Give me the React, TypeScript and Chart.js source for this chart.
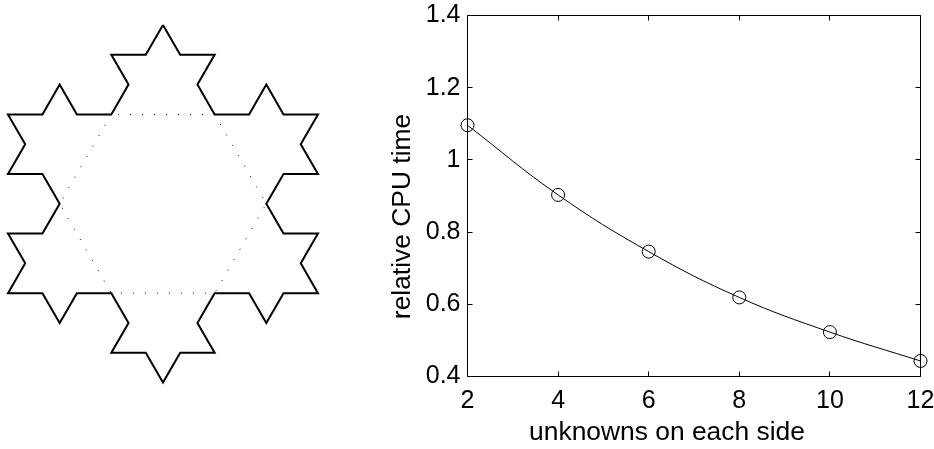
import React, { useEffect, useRef } from 'react';
import { Chart, registerables } from 'chart.js';

Chart.register(...registerables);

// ---------- Data: right-hand plot ----------
const unknownsPerSide = [2, 4, 6, 8, 10, 12];
const relativeCpuTime = [1.096, 0.903, 0.746, 0.619, 0.523, 0.443];
const xTickValues = [2, 4, 6, 8, 10, 12];
const xTickLabels = ['2', '4', '6', '8', '10', '12'];
const yTickValues = [0.4, 0.6, 0.8, 1.0, 1.2, 1.4];
const yTickLabels = ['0.4', '0.6', '0.8', '1', '1.2', '1.4'];
const xAxisTitle = 'unknowns on each side';
const yAxisTitle = 'relative CPU time';

// ---------- Data: left-hand figure (Koch snowflake) ----------
const snowflakeTriangle: number[][] = [
  [0, 5.19615],
  [-4.5, -2.59808],
  [4.5, -2.59808],
];
const kochLevel = 2;

const FONT = '"Liberation Sans", Arial, Helvetica, sans-serif';

function kochRefine(pts: number[][]): number[][] {
  const out: number[][] = [];
  const n = pts.length;
  const c = 0.5;
  const s = -Math.sqrt(3) / 2;
  for (let i = 0; i < n; i++) {
    const [ax, ay] = pts[i];
    const [bx, by] = pts[(i + 1) % n];
    const dx = (bx - ax) / 3;
    const dy = (by - ay) / 3;
    const p1 = [ax + dx, ay + dy];
    const p2 = [ax + 2 * dx, ay + 2 * dy];
    const tip = [p1[0] + dx * c - dy * s, p1[1] + dx * s + dy * c];
    out.push([ax, ay], p1, tip, p2);
  }
  return out;
}

function thirdsHexagon(pts: number[][]): number[][] {
  const out: number[][] = [];
  const n = pts.length;
  for (let i = 0; i < n; i++) {
    const [ax, ay] = pts[i];
    const [bx, by] = pts[(i + 1) % n];
    out.push([ax + (bx - ax) / 3, ay + (by - ay) / 3]);
    out.push([ax + (2 * (bx - ax)) / 3, ay + (2 * (by - ay)) / 3]);
  }
  return out;
}

function closeLoop(pts: number[][]) {
  const arr = pts.map(([x, y]) => ({ x, y }));
  arr.push({ x: pts[0][0], y: pts[0][1] });
  return arr;
}

const axisFramePlugin = {
  id: 'axisFrame',
  afterDraw(chart: any) {
    const { ctx, chartArea } = chart;
    const { left, right, top, bottom } = chartArea;
    const xs = chart.scales.x;
    const ys = chart.scales.y;
    const tl = 5;
    ctx.save();
    ctx.strokeStyle = '#000';
    ctx.lineWidth = 1;
    ctx.beginPath();
    ctx.rect(left, top, right - left, bottom - top);
    ctx.stroke();
    ctx.beginPath();
    xTickValues.forEach((v) => {
      const px = Math.round(xs.getPixelForValue(v) - 0.5) + 0.5;
      ctx.moveTo(px, bottom);
      ctx.lineTo(px, bottom - tl);
      ctx.moveTo(px, top);
      ctx.lineTo(px, top + tl);
    });
    yTickValues.forEach((v) => {
      const py = Math.round(ys.getPixelForValue(v) - 0.5) + 0.5;
      ctx.moveTo(left, py);
      ctx.lineTo(left + tl, py);
      ctx.moveTo(right, py);
      ctx.lineTo(right - tl, py);
    });
    ctx.stroke();
    ctx.restore();
  },
};

export default function App() {
  const leftRef = useRef<HTMLCanvasElement | null>(null);
  const rightRef = useRef<HTMLCanvasElement | null>(null);

  useEffect(() => {
    let flake = snowflakeTriangle;
    for (let i = 0; i < kochLevel; i++) flake = kochRefine(flake);
    const hex = thirdsHexagon(snowflakeTriangle);

    const left = new Chart(leftRef.current as HTMLCanvasElement, {
      type: 'scatter',
      data: {
        datasets: [
          {
            data: closeLoop(hex),
            showLine: true,
            borderColor: '#000',
            borderWidth: 1,
            borderDash: [1, 11],
            pointRadius: 0,
            fill: false,
            clip: false,
          } as any,
          {
            data: closeLoop(flake),
            showLine: true,
            borderColor: '#000',
            borderWidth: 2,
            borderJoinStyle: 'miter',
            pointRadius: 0,
            fill: false,
            clip: false,
          } as any,
        ],
      },
      options: {
        responsive: false,
        animation: false,
        events: [],
        layout: { padding: 0 },
        plugins: { legend: { display: false }, tooltip: { enabled: false } },
        scales: {
          x: { type: 'linear', min: -4.7323, max: 4.8493, display: false },
          y: { type: 'linear', min: -7.129, max: 5.923, display: false },
        },
      },
    });

    const right = new Chart(rightRef.current as HTMLCanvasElement, {
      type: 'line',
      data: {
        datasets: [
          {
            data: unknownsPerSide.map((x, i) => ({ x, y: relativeCpuTime[i] })),
            borderColor: '#000',
            borderWidth: 1,
            tension: 0.4,
            pointRadius: 6.5,
            pointBorderWidth: 1,
            pointBorderColor: '#000',
            pointBackgroundColor: 'rgba(0,0,0,0)',
            fill: false,
            clip: false,
          } as any,
        ],
      },
      options: {
        responsive: false,
        animation: false,
        events: [],
        layout: { padding: 0 },
        plugins: {
          legend: { display: false },
          tooltip: { enabled: false },
          title: {
            display: true,
            text: yAxisTitle,
            position: 'left',
            color: '#000',
            padding: 0,
            font: { family: FONT, size: 26.4, weight: 'normal' },
          },
          subtitle: {
            display: true,
            text: xAxisTitle,
            position: 'bottom',
            color: '#000',
            padding: 0,
            font: { family: FONT, size: 26.4, weight: 'normal' },
          },
        },
        scales: {
          x: {
            type: 'linear',
            position: 'bottom',
            min: 2,
            max: 12,
            afterBuildTicks: (s: any) => {
              s.ticks = xTickValues.map((v) => ({ value: v }));
            },
            ticks: {
              autoSkip: false,
              maxRotation: 0,
              padding: 10,
              color: '#000',
              font: { family: FONT, size: 25 },
              callback: (v: any) => {
                const i = xTickValues.findIndex((t) => Math.abs(t - v) < 1e-9);
                return i >= 0 ? xTickLabels[i] : '';
              },
            },
            grid: { display: false, drawTicks: false },
            border: { display: false },
            afterFit: (s: any) => {
              s.height = 40.82;
            },
          },
          y: {
            type: 'linear',
            position: 'left',
            min: 0.4,
            max: 1.4,
            afterBuildTicks: (s: any) => {
              s.ticks = yTickValues.map((v) => ({ value: v }));
            },
            ticks: {
              autoSkip: false,
              padding: 7,
              color: '#000',
              font: { family: FONT, size: 25 },
              callback: (v: any) => {
                const i = yTickValues.findIndex((t) => Math.abs(t - v) < 1e-9);
                return i >= 0 ? yTickLabels[i] : '';
              },
            },
            grid: { display: false, drawTicks: false },
            border: { display: false },
            afterFit: (s: any) => {
              s.width = 48.82;
            },
          },
          xTop: {
            type: 'linear',
            position: 'top',
            display: true,
            ticks: { display: false },
            grid: { display: false, drawTicks: false },
            border: { display: false },
            afterFit: (s: any) => {
              s.height = 31.5;
            },
          },
          yRight: {
            type: 'linear',
            position: 'right',
            display: true,
            ticks: { display: false },
            grid: { display: false, drawTicks: false },
            border: { display: false },
            afterFit: (s: any) => {
              s.width = 26.5;
            },
          },
        } as any,
      },
      plugins: [axisFramePlugin],
    });

    return () => {
      left.destroy();
      right.destroy();
    };
  }, []);

  return (
    <div
      style={{
        position: 'fixed',
        left: 0,
        top: 0,
        width: 934,
        height: 449,
        overflow: 'hidden',
        background: '#fff',
      }}
    >
      <canvas
        ref={leftRef}
        width={330}
        height={449}
        style={{ position: 'absolute', left: 0, top: 0, width: 330, height: 449 }}
      />
      <canvas
        ref={rightRef}
        width={560}
        height={465}
        style={{ position: 'absolute', left: 387, top: -16, width: 560, height: 465 }}
      />
    </div>
  );
}
